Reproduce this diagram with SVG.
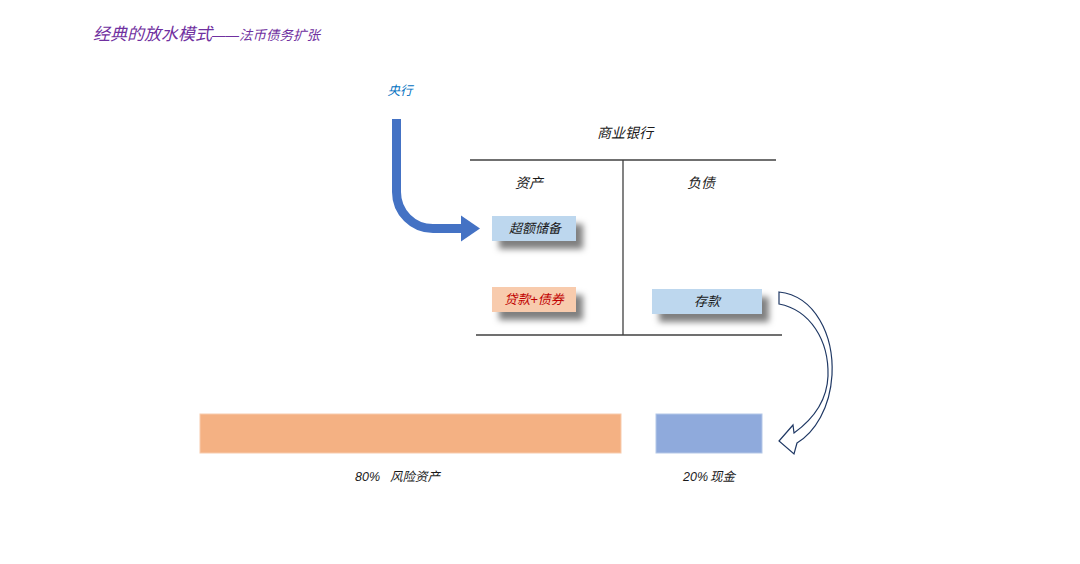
<svg xmlns="http://www.w3.org/2000/svg" width="1080" height="564" viewBox="0 0 1080 564">
<style>
text{font-family:"Liberation Sans","Noto Sans CJK SC",sans-serif;font-style:italic;fill:#1a1a1a}
.t{font-size:14px;text-anchor:middle}
.b{font-size:13px;text-anchor:middle}
.l{font-size:12.5px}
.ttl{fill:#7030A0}
.rule{stroke:#404040;stroke-width:1.3;fill:none}
</style>
<defs>
<filter id="sh" x="-30%" y="-60%" width="170%" height="240%">
<feDropShadow dx="7" dy="8" stdDeviation="3" flood-color="#000" flood-opacity="0.5"/>
</filter>
</defs>
<rect width="1080" height="564" fill="#fff"/>
<g id="title">
<text x="93" y="40" class="ttl" style="font-size:17px">经典的放水模式<tspan style="font-size:13.5px">——法币债务扩张</tspan></text>
</g>
<g id="central-bank">
<text x="400" y="95" style="font-size:12.5px;fill:#0070C0;text-anchor:middle">央行</text>
</g>
<g id="bank-table">
<text x="625" y="138" class="t">商业银行</text>
<line x1="470" y1="160" x2="776" y2="160" class="rule"/>
<line x1="623" y1="160" x2="623" y2="335" class="rule"/>
<line x1="476" y1="335" x2="782" y2="335" class="rule"/>
<text x="529" y="188" class="t">资产</text>
<text x="701" y="188" class="t">负债</text>
</g>
<g id="excess-reserve">
<rect x="492" y="216" width="84" height="25" fill="#BDD7EE" filter="url(#sh)"/>
<text x="535" y="233" class="b">超额储备</text>
</g>
<g id="loans-bonds">
<rect x="492" y="287" width="84" height="25" fill="#F8CBAD" filter="url(#sh)"/>
<text x="534" y="304" class="b" style="fill:#C00000">贷款+债券</text>
</g>
<g id="deposits">
<rect x="652" y="289" width="110" height="25" fill="#BDD7EE" filter="url(#sh)"/>
<text x="707" y="306" class="b">存款</text>
</g>
<g id="risk-assets">
<rect x="200" y="414" width="421" height="39" fill="#F4B183" stroke="#F8CBAD" stroke-width="1"/>
<text x="355" y="481" class="l">80%<tspan x="390">风险资产</tspan></text>
</g>
<g id="cash">
<rect x="656" y="414" width="106" height="39" fill="#8FAADC" stroke="#B4C7E7" stroke-width="1"/>
<text x="683" y="481" class="l">20%<tspan x="710">现金</tspan></text>
</g>
<g id="connectors">
<path d="M396.5 119 V192 A36.5 36.5 0 0 0 433 228.5 H463" fill="none" stroke="#4472C4" stroke-width="9"/>
<polygon points="461,215.5 480,228.5 461,241.5" fill="#4472C4"/>
<path d="M779 292 C815 296 834 335 832 375 C830 408 815 432 797 443 L794 454 L779 441 L793 425 L794 433 C812 420 827 402 828 376 C829 340 810 310 779 304 Z" fill="#fff" stroke="#1F3864" stroke-width="1.2" stroke-linejoin="miter"/>
</g>
</svg>
